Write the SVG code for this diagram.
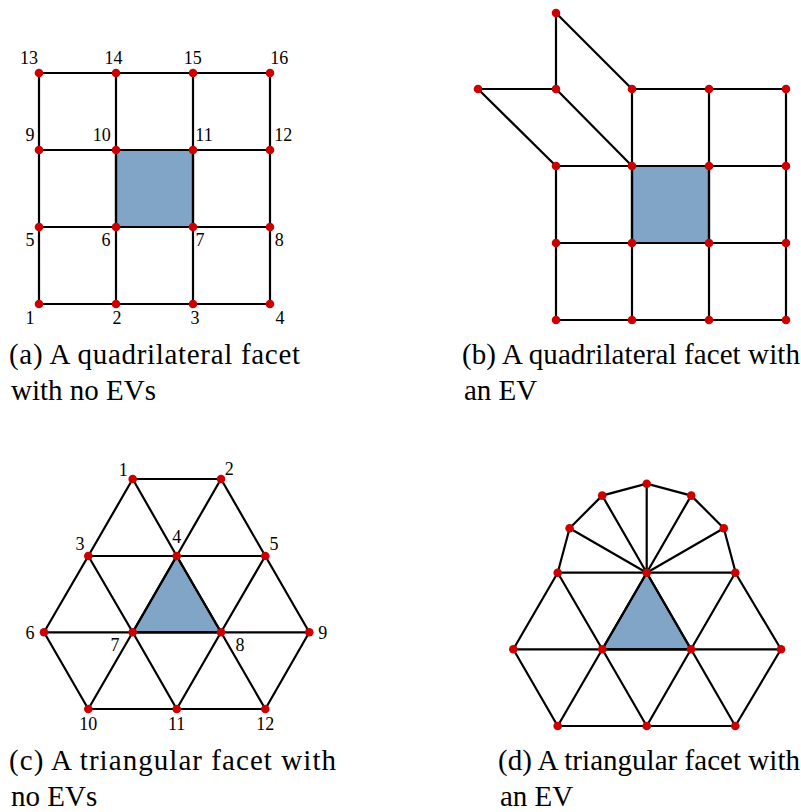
<svg xmlns="http://www.w3.org/2000/svg" width="801" height="812" viewBox="0 0 801 812">
<style>
.e{stroke:#000;stroke-width:2.2;fill:none;stroke-linecap:round}
.f{fill:#80a5c6;stroke:#000;stroke-width:2.2;stroke-linejoin:round}
.v{fill:#cc0000}
.n{font-size:18px;text-anchor:middle;fill:#000}
.c{font-size:29px;fill:#000}
</style>
<rect width="801" height="812" fill="#fff"/>
<g font-family="Liberation Serif, DejaVu Serif, Times New Roman, serif">

<!-- (a) -->
<g id="panel-a">
<rect class="f" x="116" y="150" width="77" height="77"/>
<g id="a-edges" class="e">
<path d="M39 73H270M39 150H270M39 227H270M39 304H270M39 73V304M116 73V304M193 73V304M270 73V304"/>
</g>
<g id="a-nodes" class="v">
<circle cx="39" cy="73" r="4.3"/><circle cx="116" cy="73" r="4.3"/><circle cx="193" cy="73" r="4.3"/><circle cx="270" cy="73" r="4.3"/>
<circle cx="39" cy="150" r="4.3"/><circle cx="116" cy="150" r="4.3"/><circle cx="193" cy="150" r="4.3"/><circle cx="270" cy="150" r="4.3"/>
<circle cx="39" cy="227" r="4.3"/><circle cx="116" cy="227" r="4.3"/><circle cx="193" cy="227" r="4.3"/><circle cx="270" cy="227" r="4.3"/>
<circle cx="39" cy="304" r="4.3"/><circle cx="116" cy="304" r="4.3"/><circle cx="193" cy="304" r="4.3"/><circle cx="270" cy="304" r="4.3"/>
</g>
<g id="a-labels" class="n">
<text x="29" y="64">13</text><text x="113.5" y="64">14</text><text x="192.7" y="64">15</text><text x="279.3" y="64">16</text>
<text x="30" y="141">9</text><text x="101.7" y="141">10</text><text x="204" y="141">11</text><text x="283.3" y="141">12</text>
<text x="30" y="246">5</text><text x="106" y="246">6</text><text x="200" y="246">7</text><text x="279.3" y="246">8</text>
<text x="30" y="324">1</text><text x="117" y="324">2</text><text x="195" y="324">3</text><text x="280" y="324">4</text>
</g>
<text class="c" x="9" y="364" textLength="291" lengthAdjust="spacing">(a) A quadrilateral facet</text>
<text class="c" x="11" y="400">with no EVs</text>
</g>

<!-- (b) -->
<g id="panel-b">
<rect class="f" x="632" y="166" width="77" height="77"/>
<g id="b-edges" class="e">
<path d="M632 89H786M556 166H786M556 243H786M556 320H786M556 166V320M632 89V320M709 89V320M786 89V320"/>
<path d="M556 13V89M556 13L632 89M478 89H556M478 89L556 166M556 89L632 166"/>
</g>
<g id="b-nodes" class="v">
<circle cx="556" cy="13" r="4.3"/>
<circle cx="478" cy="89" r="4.3"/><circle cx="556" cy="89" r="4.3"/><circle cx="632" cy="89" r="4.3"/><circle cx="709" cy="89" r="4.3"/><circle cx="786" cy="89" r="4.3"/>
<circle cx="556" cy="166" r="4.3"/><circle cx="632" cy="166" r="4.3"/><circle cx="709" cy="166" r="4.3"/><circle cx="786" cy="166" r="4.3"/>
<circle cx="556" cy="243" r="4.3"/><circle cx="632" cy="243" r="4.3"/><circle cx="709" cy="243" r="4.3"/><circle cx="786" cy="243" r="4.3"/>
<circle cx="556" cy="320" r="4.3"/><circle cx="632" cy="320" r="4.3"/><circle cx="709" cy="320" r="4.3"/><circle cx="786" cy="320" r="4.3"/>
</g>
<text class="c" x="462" y="364" textLength="338" lengthAdjust="spacing">(b) A quadrilateral facet with</text>
<text class="c" x="464" y="400">an EV</text>
</g>

<!-- (c) -->
<g id="panel-c">
<polygon class="f" points="176.7,556 132.7,632.3 221,632.3"/>
<g id="c-edges" class="e">
<path d="M132.7 479H221M88.3 556H265.3M44 632.3H309.3M88.3 709H265.3"/>
<path d="M132.7 479L88.3 556M132.7 479L176.7 556M221 479L176.7 556M221 479L265.3 556"/>
<path d="M88.3 556L44 632.3M88.3 556L132.7 632.3M176.7 556L132.7 632.3M176.7 556L221 632.3M265.3 556L221 632.3M265.3 556L309.3 632.3"/>
<path d="M44 632.3L88.3 709M132.7 632.3L88.3 709M132.7 632.3L176.7 709M221 632.3L176.7 709M221 632.3L265.3 709M309.3 632.3L265.3 709"/>
</g>
<g id="c-nodes" class="v">
<circle cx="132.7" cy="479" r="4.3"/><circle cx="221" cy="479" r="4.3"/>
<circle cx="88.3" cy="556" r="4.3"/><circle cx="176.7" cy="556" r="4.3"/><circle cx="265.3" cy="556" r="4.3"/>
<circle cx="44" cy="632.3" r="4.3"/><circle cx="132.7" cy="632.3" r="4.3"/><circle cx="221" cy="632.3" r="4.3"/><circle cx="309.3" cy="632.3" r="4.3"/>
<circle cx="88.3" cy="709" r="4.3"/><circle cx="176.7" cy="709" r="4.3"/><circle cx="265.3" cy="709" r="4.3"/>
</g>
<g id="c-labels" class="n">
<text x="123.3" y="476">1</text><text x="229.3" y="475">2</text>
<text x="80" y="550">3</text><text x="176.7" y="543">4</text><text x="274" y="550">5</text>
<text x="30" y="639">6</text><text x="115" y="651">7</text><text x="240" y="651">8</text><text x="322.7" y="639">9</text>
<text x="88.3" y="730">10</text><text x="176.7" y="730">11</text><text x="265.3" y="730">12</text>
</g>
<text class="c" x="9" y="770" textLength="327" lengthAdjust="spacing">(c) A triangular facet with</text>
<text class="c" x="11" y="806">no EVs</text>
</g>

<!-- (d) -->
<g id="panel-d">
<polygon class="f" points="646.7,572.7 602.3,649.3 691,649.3"/>
<g id="d-edges" class="e">
<path d="M557.7 572.7L569.6 528.2L602.2 495.6L646.7 483.7L691.2 495.6L723.8 528.2L735.7 572.7"/>
<path d="M646.7 572.7L569.6 528.2M646.7 572.7L602.2 495.6M646.7 572.7L646.7 483.7M646.7 572.7L691.2 495.6M646.7 572.7L723.8 528.2"/>
<path d="M557.7 572.7H735.3M513.3 649.3H781M557.7 726H735.3"/>
<path d="M557.7 572.7L513.3 649.3M557.7 572.7L602.3 649.3M646.7 572.7L602.3 649.3M646.7 572.7L691 649.3M735.3 572.7L691 649.3M735.3 572.7L781 649.3"/>
<path d="M513.3 649.3L557.7 726M602.3 649.3L557.7 726M602.3 649.3L646.7 726M691 649.3L646.7 726M691 649.3L735.3 726M781 649.3L735.3 726"/>
</g>
<g id="d-nodes" class="v">
<circle cx="646.7" cy="483.7" r="4.3"/><circle cx="602.2" cy="495.6" r="4.3"/><circle cx="691.2" cy="495.6" r="4.3"/>
<circle cx="569.6" cy="528.2" r="4.3"/><circle cx="723.8" cy="528.2" r="4.3"/>
<circle cx="557.7" cy="572.7" r="4.3"/><circle cx="646.7" cy="572.7" r="4.3"/><circle cx="735.3" cy="572.7" r="4.3"/>
<circle cx="513.3" cy="649.3" r="4.3"/><circle cx="602.3" cy="649.3" r="4.3"/><circle cx="691" cy="649.3" r="4.3"/><circle cx="781" cy="649.3" r="4.3"/>
<circle cx="557.7" cy="726" r="4.3"/><circle cx="646.7" cy="726" r="4.3"/><circle cx="735.3" cy="726" r="4.3"/>
</g>
<text class="c" x="498" y="770" textLength="302" lengthAdjust="spacing">(d) A triangular facet with</text>
<text class="c" x="500" y="806">an EV</text>
</g>
</g>
</svg>
